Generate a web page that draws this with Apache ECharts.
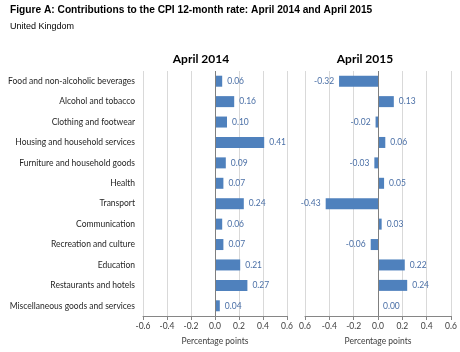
<!DOCTYPE html>
<html>
<head>
    <meta charset="utf-8">
    <title>CPI contributions</title>
    <script src="https://cdn.jsdelivr.net/npm/echarts@6/dist/echarts.min.js"></script>
    <style>
        html, body { margin: 0; padding: 0; background: #fff; }
        #chart { width: 460px; height: 352px; }
    </style>
</head>
<body>
    <div id="chart"></div>
    <script type="text/javascript">
        var categories = [
            'Food and non-alcoholic beverages',
            'Alcohol and tobacco',
            'Clothing and footwear',
            'Housing and household services',
            'Furniture and household goods',
            'Health',
            'Transport',
            'Communication',
            'Recreation and culture',
            'Education',
            'Restaurants and hotels',
            'Miscellaneous goods and services'
        ];
        var values2014 = [0.06, 0.16, 0.10, 0.41, 0.09, 0.07, 0.24, 0.06, 0.07, 0.21, 0.27, 0.04];
        var values2015 = [-0.32, 0.13, -0.02, 0.06, -0.03, 0.05, -0.43, 0.03, -0.06, 0.22, 0.24, 0.00];
        var panelTitles = ['April 2014', 'April 2015'];

        var font = 'Lato, "Open Sans", sans-serif';
        var barColor = '#4f81bd';
        var labelColor = '#4a6fa6';

        var chart = echarts.init(document.getElementById('chart'), null, { renderer: 'canvas' });

        // bars with labels on the outer side of each bar
        function barData(vals) {
            return vals.map(function (v) {
                return {
                    value: v,
                    label: { position: v < 0 ? 'left' : 'right' }
                };
            });
        }

        function xAxisFor(idx, fixMinus) {
            return {
                gridIndex: idx,
                type: 'value',
                min: -0.6,
                max: 0.6,
                interval: 0.2,
                name: 'Percentage points',
                nameLocation: 'middle',
                nameGap: 21,
                nameTextStyle: { fontFamily: font, fontSize: 8.5, color: '#404040' },
                axisLine: { show: true, onZero: false, lineStyle: { color: '#868686', width: 1 } },
                axisTick: { show: true, length: 4, lineStyle: { color: '#868686' } },
                axisLabel: {
                    fontFamily: font, fontSize: 8.5, color: '#404040', margin: 6,
                    formatter: function (v) {
                        var s = v.toFixed(1);
                        // the reference prints the first tick of the second panel without its minus
                        if (fixMinus && Math.abs(v + 0.6) < 1e-9) s = '0.6';
                        return s;
                    }
                },
                splitLine: { show: true, lineStyle: { color: '#d9d9d9', width: 1 } }
            };
        }

        function yAxisFor(idx, showLabels) {
            return {
                gridIndex: idx,
                type: 'category',
                data: categories,
                inverse: true,
                axisLine: { show: false },
                axisTick: { show: false },
                splitLine: { show: false },
                axisLabel: {
                    show: showLabels,
                    fontFamily: font, fontSize: 8.5, color: '#262626', margin: 8
                }
            };
        }

        function seriesFor(idx, vals) {
            return {
                type: 'bar',
                xAxisIndex: idx,
                yAxisIndex: idx,
                data: barData(vals),
                barWidth: 11,
                itemStyle: { color: barColor },
                label: {
                    show: true,
                    distance: 5,
                    fontFamily: font,
                    fontSize: 8.5,
                    color: labelColor,
                    formatter: function (p) { return p.value.toFixed(2); }
                },
                markLine: {
                    silent: true,
                    symbol: 'none',
                    label: { show: false },
                    lineStyle: { color: '#7f7f7f', width: 1, type: 'solid' },
                    data: [{ xAxis: 0 }]
                },
                animation: false
            };
        }

        var option = {
            backgroundColor: '#fff',
            animation: false,
            title: [
                {
                    text: 'Figure A: Contributions to the CPI 12-month rate: April 2014 and April 2015',
                    left: 5, top: 0,
                    textStyle: { fontFamily: '"Liberation Sans", Arial, sans-serif', fontSize: 10.2, fontWeight: 'bold', color: '#000' }
                },
                {
                    text: 'United Kingdom',
                    left: 5, top: 17,
                    textStyle: { fontFamily: '"Liberation Sans", Arial, sans-serif', fontSize: 9, fontWeight: 'normal', color: '#000' }
                },
                {
                    text: panelTitles[0],
                    left: 196, top: 48, textAlign: 'center',
                    textStyle: { fontFamily: font, fontSize: 12, fontWeight: 'bold', color: '#000' }
                },
                {
                    text: panelTitles[1],
                    left: 360, top: 48, textAlign: 'center',
                    textStyle: { fontFamily: font, fontSize: 12, fontWeight: 'bold', color: '#000' }
                }
            ],
            grid: [
                { left: 143, width: 144, top: 71, height: 245 },
                { left: 305, width: 146, top: 71, height: 245 }
            ],
            xAxis: [xAxisFor(0, false), xAxisFor(1, true)],
            yAxis: [yAxisFor(0, true), yAxisFor(1, false)],
            series: [seriesFor(0, values2014), seriesFor(1, values2015)]
        };

        chart.setOption(option);
    </script>
</body>
</html>
